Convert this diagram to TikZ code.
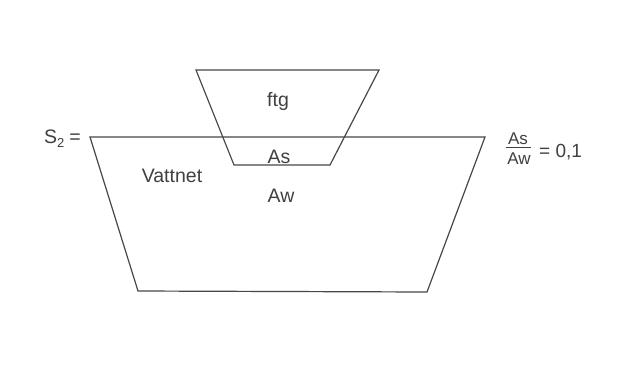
\documentclass[tikz,border=0pt]{standalone}
\usepackage{fontspec}
\setmainfont{Liberation Sans}
\begin{document}
\begin{tikzpicture}[x=1pt,y=-1pt,
  edge/.style={draw=black!72, line width=1.2pt, line join=miter},
  lbl/.style={inner sep=0pt, anchor=base, text=black!75, font=\fontsize{19.5}{22}\selectfont}]
\fill[white] (0,0) rectangle (632,376);
\useasboundingbox (0,0) rectangle (632,376);
% big trapezoid (water)
\coordinate (wtl) at (90,137);
\coordinate (wtr) at (485,137);
\coordinate (wbr) at (427,292);
\coordinate (wbl) at (138,291);
% small trapezoid (ftg)
\coordinate (ftl) at (196,70);
\coordinate (ftr) at (379,70);
\coordinate (fbr) at (330,165);
\coordinate (fbl) at (234,165);
\draw[edge] (wtl) -- (wtr) -- (wbr) -- (wbl) -- cycle;
\draw[edge] (ftl) -- (ftr) -- (fbr) -- (fbl) -- cycle;
% labels
\node[lbl, anchor=base west] (s2) at (44,143) {S\raisebox{-4pt}{\fontsize{13}{13}\selectfont 2}\hspace{5pt}=};
\node[lbl] (vat) at (172,182) {Vattnet};
\node[lbl] (ftg) at (278,106) {ftg};
\node[lbl] (as) at (279,163) {As};
\node[lbl] (aw) at (281,202) {Aw};
\node[lbl, font=\fontsize{17}{19}\selectfont] (num) at (518,144) {As};
\draw[draw=black!75, line width=1pt] (506,147.5) -- (531,147.5);
\node[lbl, font=\fontsize{17}{19}\selectfont] (den) at (519,164) {Aw};
\node[lbl, anchor=base west, font=\fontsize{19}{21}\selectfont] (eq) at (539,157) {= 0,1};
\end{tikzpicture}
\end{document}
